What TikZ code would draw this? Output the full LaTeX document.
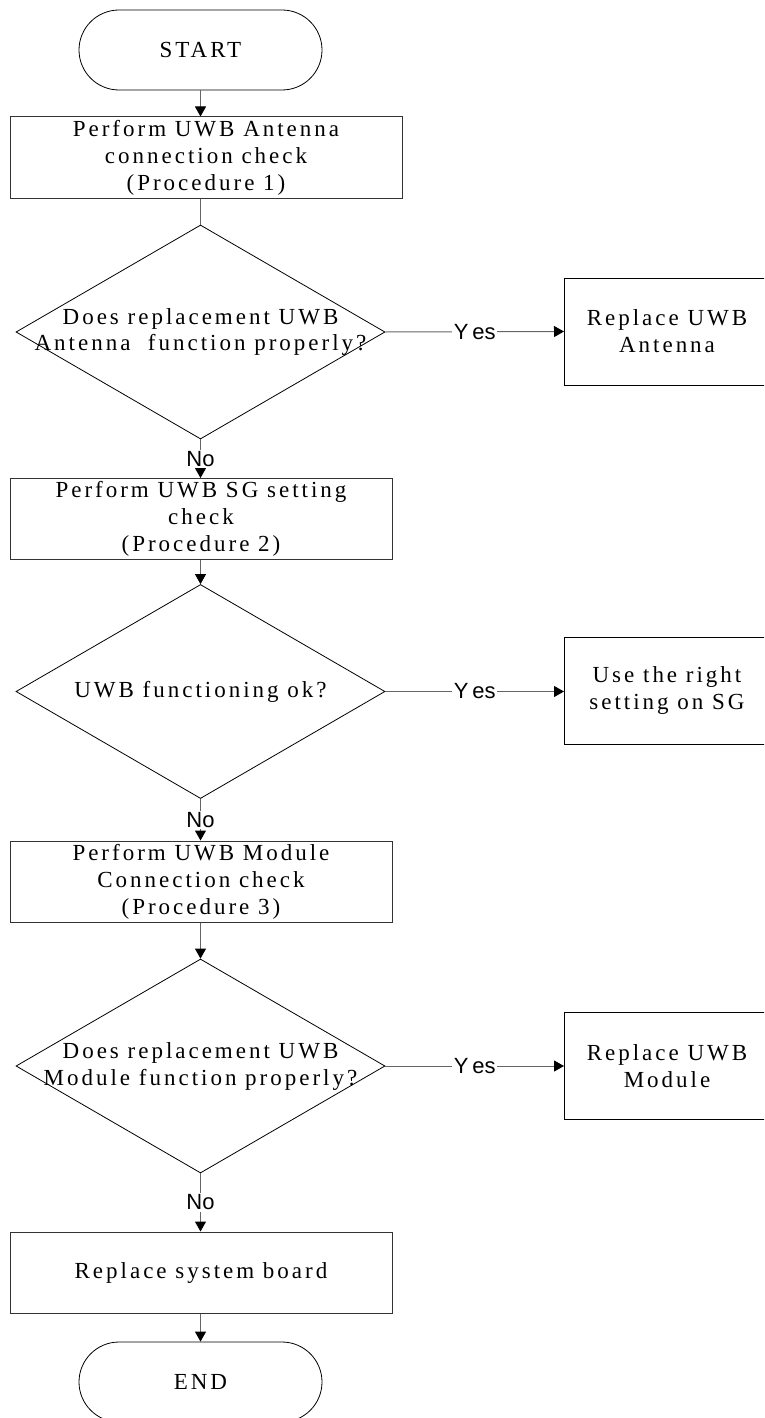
\documentclass[tikz,border=0pt]{standalone}
\usepackage{fontspec}
\setmainfont{Liberation Serif}[LetterSpace=13]
\newfontfamily\yesnofont{Liberation Sans}
\usetikzlibrary{shapes.geometric,arrows.meta}
\tikzset{
  boxtext/.style={font=\fontsize{23pt}{27pt}\selectfont, align=center, text=black},
  procbox/.style={rectangle, draw=black!80, line width=1pt, minimum width=382pt, minimum height=81pt, inner sep=0pt, boxtext},
  sidebox/.style={rectangle, draw=black, line width=1pt, minimum width=205pt, minimum height=107pt, inner sep=0pt, boxtext},
  termbox/.style={rectangle, draw=black, line width=0.8pt, rounded corners=40pt, minimum width=243pt, minimum height=80pt, inner sep=0pt, boxtext},
  decbox/.style={diamond, draw=black, line width=0.8pt, minimum width=369pt, minimum height=214pt, inner sep=0pt},
  conn/.style={draw=black!60, line width=1pt},
  arr/.style={conn, -{Triangle[length=10pt,width=11pt,color=black]}},
  lbl/.style={font=\yesnofont\fontsize{22pt}{22pt}\selectfont, fill=white, inner sep=1.5pt, text=black}
}
\begin{document}
\begin{tikzpicture}[x=1pt,y=-1pt]
\useasboundingbox (0,0) rectangle (764,1418);
\fill[white] (0,0) rectangle (764,1418);
\clip (0,0) rectangle (764,1418);

\node[termbox] (start) at (200.5,50) {START};
\node[procbox, minimum width=392pt] (b1) at (206,157.5) {Perform UWB Antenna\\connection check\\(Procedure 1)};
\node[decbox] (d1) at (200.5,332) {};
\node[boxtext] (d1t) at (d1) {Does replacement UWB\\Antenna\ \ function properly?};
\node[sidebox] (a1) at (667,331.5) {Replace UWB\\Antenna};

\node[procbox] (b2) at (201,519) {Perform UWB SG setting\\check\\(Procedure 2)};
\node[decbox] (d2) at (200.5,691.5) {};
\node[boxtext] (d2t) at (d2) {UWB functioning ok?};
\node[sidebox] (a2) at (667,690.5) {Use the right\\setting on SG};

\node[procbox] (b3) at (201,881.5) {Perform UWB Module\\Connection check\\(Procedure 3)};
\node[decbox] (d3) at (200.5,1066) {};
\node[boxtext] (d3t) at (d3) {Does replacement UWB\\Module function properly?};
\node[sidebox] (a3) at (667,1066) {Replace UWB\\Module};

\node[procbox] (b4) at (201,1272.5) {Replace system board};
\node[termbox] (end) at (200.5,1382) {END};

\draw[arr] (start.south) -- (start.south |- b1.north);
\draw[conn] (b1.south -| d1.north) -- (d1.north);
\draw[arr] (d1.south) -- (d1.south |- b2.north) node[midway, lbl] (n1) {No};
\draw[arr] (d1.east) -- (a1.west) node[midway, lbl] (y1) {Y\hspace{4pt}es};

\draw[arr] (b2.south -| d2.north) -- (d2.north);
\draw[arr] (d2.south) -- (d2.south |- b3.north) node[midway, lbl] (n2) {No};
\draw[arr] (d2.east) -- (d2.east -| a2.west) node[midway, lbl] (y2) {Y\hspace{4pt}es};

\draw[arr] (b3.south -| d3.north) -- (d3.north);
\draw[arr] (d3.south) -- (d3.south |- b4.north) node[midway, lbl] (n3) {No};
\draw[arr] (d3.east) -- (a3.west) node[midway, lbl] (y3) {Y\hspace{4pt}es};

\draw[arr] (b4.south -| end.north) -- (end.north);
\end{tikzpicture}
\end{document}
